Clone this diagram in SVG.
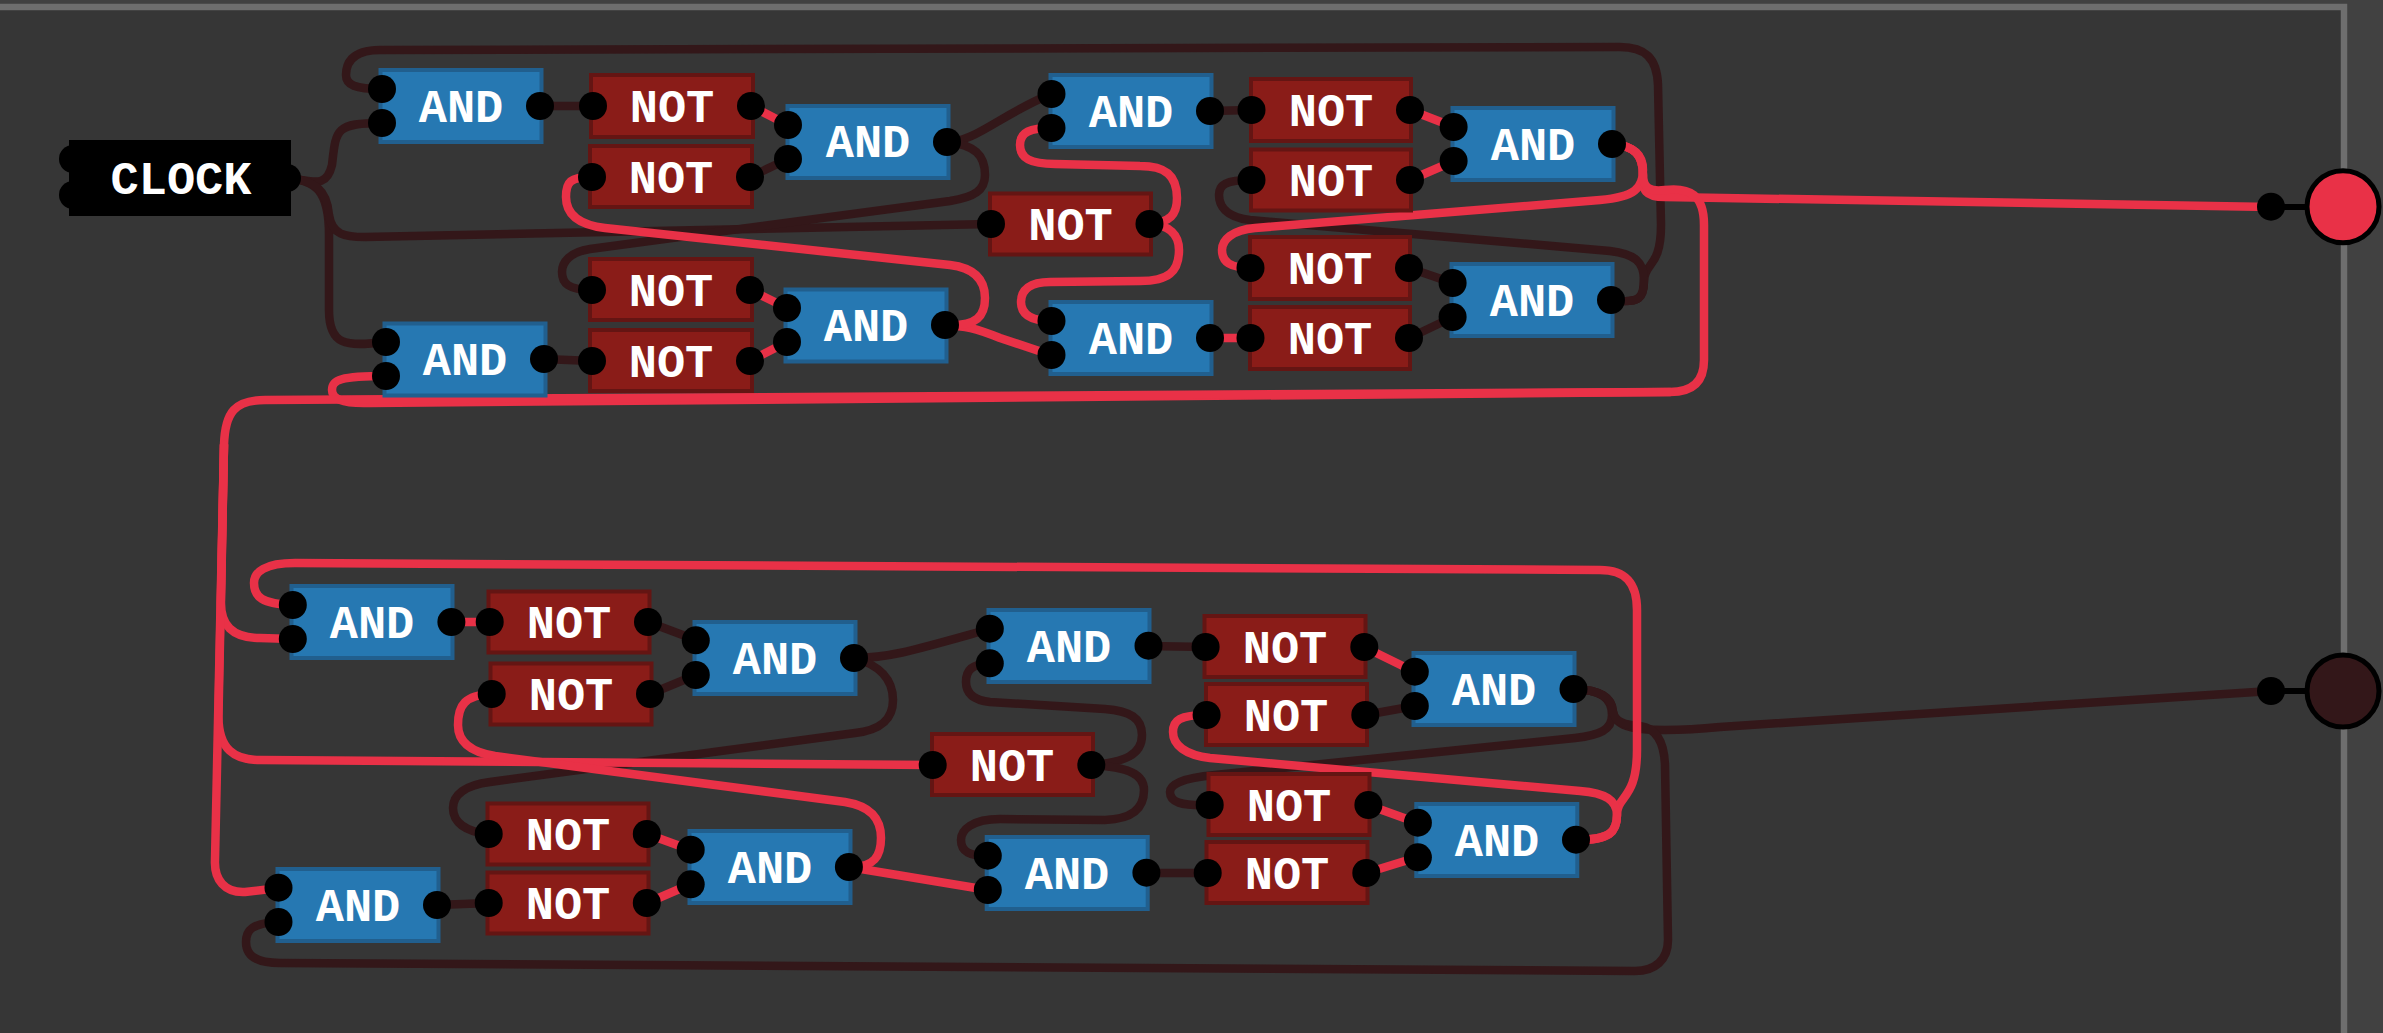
<svg xmlns="http://www.w3.org/2000/svg" width="2383" height="1033" viewBox="0 0 2383 1033">
<style>
.w{fill:none;stroke-width:8.5;stroke-linecap:round;stroke-linejoin:round}
.d{stroke:#331719}
.r{stroke:#e93147}
.a{fill:#2678b2;stroke:#215f8e;stroke-width:4}
.n{fill:#8a1c18;stroke:#641513;stroke-width:4}
.p{fill:#000}
.t{font-family:"Liberation Mono","DejaVu Sans Mono",monospace;font-weight:700;font-size:47px;fill:#fff;text-anchor:middle}
</style>
<rect width="2383" height="1033" fill="#414141"/>
<rect x="-10" y="7" width="2354" height="1100" fill="#363636" stroke="#6e6e6e" stroke-width="6.5"/>
<g id="connectors">
<g class="w d">
<path d="M287 178C312 180 326 190 332 165C336 130 335 123 381 123"/>
<path d="M287 178C315 180 329 190 329 235L329 310C329 345 345 347 385 342"/>
<path d="M287 178C315 180 327 190 329 215C332 235 345 237 365 237L991 224"/>
<path d="M1611 300C1640 304 1644 298 1644 280C1645 262 1661 268 1661 225L1658 85C1657 58 1645 47 1620 47L380 50C350 50 346 65 346 75C346 85 355 89 382 89"/>
<path d="M1611 300C1640 304 1644 298 1644 280C1644 262 1635 254 1610 251L1250 220C1225 217 1219 205 1219 195C1219 185 1225 180 1252 180"/>
<path d="M540 106L593 106"/>
<path d="M750 177L788 159"/>
<path d="M544 359L592 361"/>
<path d="M947 142C975 142 1000 115 1051 94"/>
<path d="M947 142C975 145 985 155 985 175C985 190 975 197 950 201L590 249C570 252 562 262 562 272C562 283 568 290 592 290"/>
<path d="M1210 111L1251 110"/>
<path d="M1409 268L1453 283"/>
<path d="M1409 338L1453 317"/>
<path d="M648 622L696 640"/>
<path d="M650 694L696 675"/>
<path d="M437 905L489 903"/>
<path d="M854 658C890 658 915 650 990 629"/>
<path d="M854 658C880 665 893 680 893 700C893 720 880 730 855 733L490 782C465 785 453 795 453 808C453 822 465 832 489 834"/>
<path d="M1091 765C1125 762 1142 755 1142 735C1142 718 1130 711 1105 709L990 702C972 700 966 692 966 682C966 670 972 664 990 663"/>
<path d="M1091 765C1130 767 1144 775 1144 790C1144 810 1130 819 1105 820L1000 819C972 819 961 830 961 840C961 852 970 856 988 856"/>
<path d="M1148 646L1206 647"/>
<path d="M1146 873L1208 873"/>
<path d="M1365 715L1415 706"/>
<path d="M1574 689C1600 690 1612 697 1613 712C1615 725 1630 730 1665 730Q1690 730 1720 727L2271 691"/>
<path d="M1574 689C1600 690 1612 697 1612 715C1612 730 1600 735 1575 738L1215 775C1180 778 1170 785 1170 792C1170 802 1180 806 1210 805"/>
<path d="M1574 689C1600 690 1612 697 1613 712C1615 722 1625 725 1640 726C1655 728 1664 740 1665 765L1668 940C1668 960 1655 971 1635 971L280 963C255 963 246 955 246 942C246 930 252 923 279 922"/>
</g>
<g class="w r">
<path d="M751 106L788 125"/>
<path d="M750 290L787 308"/>
<path d="M750 361L787 342"/>
<path d="M945 325C965 326 975 328 1000 338L1051 355"/>
<path d="M945 325C978 327 985 315 985 298C985 280 975 268 950 265L605 228C580 225 566 215 566 197C566 182 570 177 592 177"/>
<path d="M1150 224C1170 222 1177 215 1177 198C1177 175 1165 166 1140 166L1055 164C1030 164 1020 158 1020 145C1020 132 1030 128 1052 128"/>
<path d="M1150 224C1170 225 1179 235 1179 250C1179 272 1168 281 1140 281L1050 282C1030 282 1021 290 1021 302C1021 314 1030 321 1052 321"/>
<path d="M1210 338L1250 338"/>
<path d="M1410 110L1454 127"/>
<path d="M1410 180L1454 161"/>
<path d="M1612 144C1635 146 1643 155 1643 175C1642 190 1645 197 1665 197L2271 207"/>
<path d="M1612 144C1635 146 1643 155 1643 170C1643 188 1635 197 1600 200L1255 228C1232 230 1222 240 1222 250C1222 262 1230 268 1252 268"/>
<path d="M1612 144C1635 146 1643 155 1643 175C1643 188 1650 192 1665 190C1690 187 1704 195 1704 225L1704 360C1704 382 1692 392 1670 392L370 403C340 404 332 398 332 390C332 380 340 376 386 376"/>
<path d="M1670 392L265 400C235 400 225 412 224 445L221 600C220 625 232 638 260 638L293 639"/>
<path d="M224 445L218.500 715C218 750 235 760 260 760L933 765"/>
<path d="M224 445L215 860C214 880 225 893 245 892L279 888"/>
<path d="M451 622L490 622"/>
<path d="M647 834L691 850"/>
<path d="M647 903L691 884"/>
<path d="M849 867L988 890"/>
<path d="M849 867C875 868 881 855 881 838C881 818 870 806 845 802L495 756C470 752 458 742 458 725C458 705 465 695 492 694"/>
<path d="M1364 647L1415 672"/>
<path d="M1368 805L1418 823"/>
<path d="M1366 873L1418 857"/>
<path d="M1576 840C1610 840 1617 832 1617 815C1617 795 1637 800 1637 750L1637 610C1637 582 1625 570 1600 570L295 563C265 563 254 572 254 583C254 597 262 604 293 605"/>
<path d="M1576 840C1610 840 1617 832 1617 815C1617 800 1605 793 1580 791L1210 758C1185 755 1173 745 1173 732C1173 720 1180 715 1207 715"/>
</g>
</g>
<g id="clock"><circle class="p" cx="73" cy="159" r="14"/><circle class="p" cx="73" cy="195" r="14"/><circle class="p" cx="287" cy="178" r="14"/><rect x="69" y="140" width="222" height="76" fill="#000"/><text class="t" x="181" y="194">CLOCK</text></g>
<g id="and1"><rect class="a" x="380.500" y="70" width="161" height="72"/><text class="t" x="461" y="122">AND</text><circle class="p" cx="382" cy="89" r="14"/><circle class="p" cx="382" cy="123" r="14"/><circle class="p" cx="540" cy="106" r="14"/></g>
<g id="not1"><rect class="n" x="591" y="75" width="162" height="62"/><text class="t" x="672" y="122">NOT</text><circle class="p" cx="593" cy="106" r="14"/><circle class="p" cx="751" cy="106" r="14"/></g>
<g id="not2"><rect class="n" x="590" y="146" width="162" height="61"/><text class="t" x="671" y="193">NOT</text><circle class="p" cx="592" cy="177" r="14"/><circle class="p" cx="750" cy="177" r="14"/></g>
<g id="not3"><rect class="n" x="590" y="259" width="162" height="61"/><text class="t" x="671" y="306">NOT</text><circle class="p" cx="592" cy="290" r="14"/><circle class="p" cx="750" cy="290" r="14"/></g>
<g id="not4"><rect class="n" x="590" y="330" width="162" height="61"/><text class="t" x="671" y="377">NOT</text><circle class="p" cx="592" cy="361" r="14"/><circle class="p" cx="750" cy="361" r="14"/></g>
<g id="and2"><rect class="a" x="384.500" y="323.500" width="161" height="72"/><text class="t" x="465" y="375">AND</text><circle class="p" cx="386" cy="342" r="14"/><circle class="p" cx="386" cy="376" r="14"/><circle class="p" cx="544" cy="359" r="14"/></g>
<g id="and3"><rect class="a" x="787.500" y="106" width="161" height="72"/><text class="t" x="868" y="157">AND</text><circle class="p" cx="788" cy="125" r="14"/><circle class="p" cx="788" cy="159" r="14"/><circle class="p" cx="947" cy="142" r="14"/></g>
<g id="and4"><rect class="a" x="785.500" y="289.500" width="161" height="72"/><text class="t" x="866" y="341">AND</text><circle class="p" cx="787" cy="308" r="14"/><circle class="p" cx="787" cy="342" r="14"/><circle class="p" cx="945" cy="325" r="14"/></g>
<g id="and5"><rect class="a" x="1050.500" y="75" width="161" height="72"/><text class="t" x="1131" y="127">AND</text><circle class="p" cx="1051.500" cy="94" r="14"/><circle class="p" cx="1051.500" cy="128" r="14"/><circle class="p" cx="1210" cy="111" r="14"/></g>
<g id="not5"><rect class="n" x="990" y="193.500" width="161" height="61"/><text class="t" x="1070.500" y="240">NOT</text><circle class="p" cx="991" cy="224" r="14"/><circle class="p" cx="1149.500" cy="224" r="14"/></g>
<g id="and6"><rect class="a" x="1050.500" y="302" width="161" height="72"/><text class="t" x="1131" y="354">AND</text><circle class="p" cx="1051.500" cy="321" r="14"/><circle class="p" cx="1051.500" cy="355" r="14"/><circle class="p" cx="1210" cy="338" r="14"/></g>
<g id="not6"><rect class="n" x="1251" y="79" width="160" height="62"/><text class="t" x="1331" y="126">NOT</text><circle class="p" cx="1251.500" cy="110" r="14"/><circle class="p" cx="1410" cy="110" r="14"/></g>
<g id="not7"><rect class="n" x="1251" y="149.500" width="160" height="61"/><text class="t" x="1331" y="196">NOT</text><circle class="p" cx="1251.500" cy="180" r="14"/><circle class="p" cx="1410" cy="180" r="14"/></g>
<g id="not8"><rect class="n" x="1250" y="237" width="160" height="62"/><text class="t" x="1330" y="284">NOT</text><circle class="p" cx="1250.500" cy="268" r="14"/><circle class="p" cx="1409" cy="268" r="14"/></g>
<g id="not9"><rect class="n" x="1250" y="307" width="160" height="62"/><text class="t" x="1330" y="354">NOT</text><circle class="p" cx="1250.500" cy="338" r="14"/><circle class="p" cx="1409" cy="338" r="14"/></g>
<g id="and7"><rect class="a" x="1452.500" y="108" width="161" height="72"/><text class="t" x="1533" y="160">AND</text><circle class="p" cx="1453.600" cy="127" r="14"/><circle class="p" cx="1453.600" cy="161" r="14"/><circle class="p" cx="1612" cy="144" r="14"/></g>
<g id="and8"><rect class="a" x="1451.500" y="264" width="161" height="72"/><text class="t" x="1532" y="316">AND</text><circle class="p" cx="1452.600" cy="283" r="14"/><circle class="p" cx="1452.600" cy="317" r="14"/><circle class="p" cx="1611" cy="300" r="14"/></g>
<g id="out1"><path d="M2271 207H2343" stroke="#000" stroke-width="6"/><circle cx="2343" cy="206.700" r="36" fill="#e93147" stroke="#000" stroke-width="5"/><circle class="p" cx="2271" cy="206.700" r="14"/></g>
<g id="and9"><rect class="a" x="291.500" y="586" width="161" height="72"/><text class="t" x="372" y="638">AND</text><circle class="p" cx="292.800" cy="605" r="14"/><circle class="p" cx="292.800" cy="639" r="14"/><circle class="p" cx="451.400" cy="622" r="14"/></g>
<g id="not10"><rect class="n" x="488.500" y="591.500" width="161" height="61"/><text class="t" x="569" y="638">NOT</text><circle class="p" cx="489.700" cy="622" r="14"/><circle class="p" cx="648" cy="622" r="14"/></g>
<g id="not11"><rect class="n" x="490.500" y="663.500" width="161" height="61"/><text class="t" x="571" y="710">NOT</text><circle class="p" cx="491.700" cy="694" r="14"/><circle class="p" cx="650" cy="694" r="14"/></g>
<g id="and10"><rect class="a" x="694.500" y="622" width="161" height="72"/><text class="t" x="775" y="674">AND</text><circle class="p" cx="695.800" cy="640.300" r="14"/><circle class="p" cx="695.800" cy="675" r="14"/><circle class="p" cx="854" cy="658" r="14"/></g>
<g id="not12"><rect class="n" x="932" y="734" width="161" height="61"/><text class="t" x="1012" y="781">NOT</text><circle class="p" cx="932.700" cy="765" r="14"/><circle class="p" cx="1091.300" cy="765" r="14"/></g>
<g id="not13"><rect class="n" x="487.500" y="803.500" width="161" height="61"/><text class="t" x="568" y="850">NOT</text><circle class="p" cx="488.700" cy="834" r="14"/><circle class="p" cx="646.800" cy="834" r="14"/></g>
<g id="not14"><rect class="n" x="487.500" y="872.500" width="161" height="61"/><text class="t" x="568" y="919">NOT</text><circle class="p" cx="488.700" cy="903" r="14"/><circle class="p" cx="646.800" cy="903" r="14"/></g>
<g id="and11"><rect class="a" x="689.500" y="831" width="161" height="72"/><text class="t" x="770" y="883">AND</text><circle class="p" cx="690.700" cy="849.700" r="14"/><circle class="p" cx="690.700" cy="884.300" r="14"/><circle class="p" cx="848.900" cy="867" r="14"/></g>
<g id="and12"><rect class="a" x="277.500" y="869" width="161" height="72"/><text class="t" x="358" y="921">AND</text><circle class="p" cx="278.500" cy="887.700" r="14"/><circle class="p" cx="278.500" cy="922" r="14"/><circle class="p" cx="437" cy="905" r="14"/></g>
<g id="and13"><rect class="a" x="988.500" y="610" width="161" height="72"/><text class="t" x="1069" y="662">AND</text><circle class="p" cx="989.800" cy="628.700" r="14"/><circle class="p" cx="989.800" cy="663.300" r="14"/><circle class="p" cx="1148.500" cy="645.700" r="14"/></g>
<g id="not15"><rect class="n" x="1204.500" y="616" width="161" height="61"/><text class="t" x="1285" y="663">NOT</text><circle class="p" cx="1205.600" cy="647" r="14"/><circle class="p" cx="1364.300" cy="647" r="14"/></g>
<g id="not16"><rect class="n" x="1206" y="684" width="161" height="61"/><text class="t" x="1286" y="731">NOT</text><circle class="p" cx="1206.600" cy="715" r="14"/><circle class="p" cx="1365.300" cy="715" r="14"/></g>
<g id="and14"><rect class="a" x="1413.500" y="653" width="161" height="72"/><text class="t" x="1494" y="705">AND</text><circle class="p" cx="1414.800" cy="671.700" r="14"/><circle class="p" cx="1414.800" cy="706" r="14"/><circle class="p" cx="1573.500" cy="689" r="14"/></g>
<g id="not17"><rect class="n" x="1208.500" y="774" width="161" height="61"/><text class="t" x="1289" y="821">NOT</text><circle class="p" cx="1209.700" cy="805" r="14"/><circle class="p" cx="1368.400" cy="805" r="14"/></g>
<g id="not18"><rect class="n" x="1206.500" y="842" width="161" height="61"/><text class="t" x="1287" y="889">NOT</text><circle class="p" cx="1207.700" cy="873" r="14"/><circle class="p" cx="1366.300" cy="873" r="14"/></g>
<g id="and15"><rect class="a" x="1416.300" y="804" width="161" height="72"/><text class="t" x="1497" y="856">AND</text><circle class="p" cx="1417.900" cy="822.700" r="14"/><circle class="p" cx="1417.900" cy="857.300" r="14"/><circle class="p" cx="1576" cy="839.700" r="14"/></g>
<g id="and16"><rect class="a" x="986.700" y="837" width="161" height="72"/><text class="t" x="1067" y="889">AND</text><circle class="p" cx="987.800" cy="855.700" r="14"/><circle class="p" cx="987.800" cy="890" r="14"/><circle class="p" cx="1146.400" cy="872.700" r="14"/></g>
<g id="out2"><path d="M2271 691H2343" stroke="#000" stroke-width="6"/><circle cx="2343" cy="691" r="36" fill="#331719" stroke="#000" stroke-width="5"/><circle class="p" cx="2271" cy="691" r="14"/></g>
</svg>
